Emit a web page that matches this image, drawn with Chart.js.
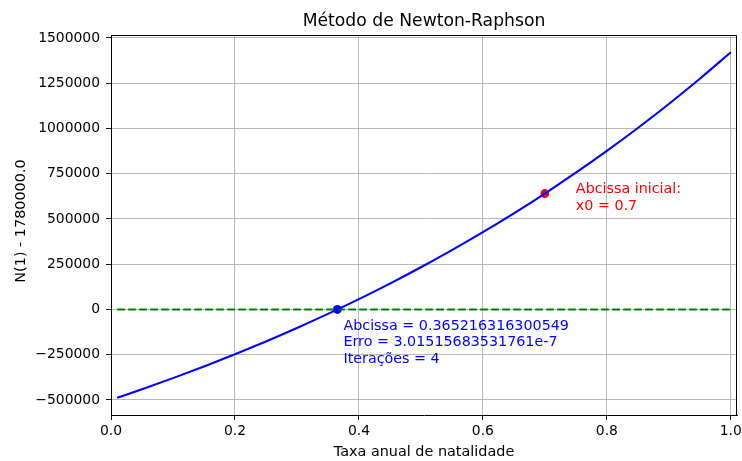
<!DOCTYPE html>
<html>
<head>
<meta charset="utf-8">
<script src="https://cdn.jsdelivr.net/npm/chart.js@4/dist/chart.umd.min.js"></script>
<style>
  html, body { margin: 0; padding: 0; background: #fff; }
  canvas { display: block; }
</style>
</head>
<body>
<canvas id="myChart" width="742" height="461"></canvas>
<script>
// valores
var taxa = [0.01, 0.05, 0.10, 0.15, 0.20, 0.25, 0.30, 0.35, 0.40, 0.45, 0.50,
            0.55, 0.60, 0.65, 0.70, 0.75, 0.80, 0.85, 0.90, 0.95, 1.00];
var valores = [-487500, -440600, -379300, -315000, -247500, -176700, -102400, -24500,
               57300, 143200, 233300, 327900, 427100, 531300, 640700, 755500,
               876000, 1002500, 1135300, 1274700, 1421100];
var zeroX = [0.01, 1.0];
var zeroY = [0, 0];
var raiz = [0.365216316300549, 0];
var inicial = [0.7, 640700];
var xTicks = [0.0, 0.2, 0.4, 0.6, 0.8, 1.0];
var yTicks = [-500000, -250000, 0, 250000, 500000, 750000, 1000000, 1250000, 1500000];
var textoRaiz = ['Abcissa = 0.365216316300549', 'Erro = 3.01515683531761e-7', 'Itera\u00e7\u00f5es = 4'];
var textoInicial = ['Abcissa inicial:', 'x0 = 0.7'];

var FONT = "'DejaVu Sans', sans-serif";

var extras = {
    id: 'extras',
    afterDraw: function (chart) {
        var c = chart.ctx, a = chart.chartArea;
        var xs = chart.scales.x, ys = chart.scales.y;
        c.save();
        // moldura (topo e direita)
        c.strokeStyle = '#000';
        c.lineWidth = 1;
        c.beginPath();
        c.moveTo(Math.round(a.left), Math.round(a.top) + 0.5);
        c.lineTo(Math.round(a.right) - 0.5, Math.round(a.top) + 0.5);
        c.lineTo(Math.round(a.right) - 0.5, Math.round(a.bottom));
        c.stroke();

        // titulo e eixos
        c.fillStyle = '#000';
        c.textAlign = 'center';
        c.textBaseline = 'alphabetic';
        c.font = '17.2px ' + FONT;
        c.fillText('M\u00e9todo de Newton-Raphson', (a.left + a.right) / 2, 26);
        c.font = '14.4px ' + FONT;
        c.fillText('Taxa anual de natalidade', (a.left + a.right) / 2, 456);
        c.save();
        c.translate(25, 221);
        c.rotate(-Math.PI / 2);
        c.fillText('N(1) - 1780000.0', 0, 0);
        c.restore();

        // anotacoes
        c.textAlign = 'left';
        c.font = '14.3px ' + FONT;
        c.fillStyle = '#0000ff';
        var bx = xs.getPixelForValue(0.375), by = ys.getPixelForValue(-111000);
        textoRaiz.forEach(function (t, i) { c.fillText(t, bx, by + i * 16.7); });
        c.fillStyle = '#ff0000';
        var rx = xs.getPixelForValue(0.75), ry = ys.getPixelForValue(642000);
        textoInicial.forEach(function (t, i) { c.fillText(t, rx, ry + i * 16.7); });
        c.restore();
    }
};

var ctx1 = document.getElementById('myChart').getContext('2d');
var myChart = new Chart(ctx1, {
    type: 'scatter',
    data: {
        datasets: [{
            data: taxa.map(function (x, i) { return { x: x, y: valores[i] }; }),
            showLine: true,
            borderColor: '#0000ff',
            borderWidth: 2.1,
            pointRadius: 0,
            cubicInterpolationMode: 'monotone'
        }, {
            data: zeroX.map(function (x, i) { return { x: x, y: zeroY[i] }; }),
            showLine: true,
            borderColor: '#008000',
            borderWidth: 2.1,
            borderDash: [7.7, 3.3],
            pointRadius: 0
        }, {
            data: [{ x: raiz[0], y: raiz[1] }],
            pointRadius: 4.4,
            pointBackgroundColor: '#0000ff',
            pointBorderColor: '#0000ff',
            pointBorderWidth: 0
        }, {
            data: [{ x: inicial[0], y: inicial[1] }],
            pointRadius: 4.4,
            pointBackgroundColor: '#ff0000',
            pointBorderColor: '#ff0000',
            pointBorderWidth: 0
        }]
    },
    options: {
        responsive: false,
        animation: false,
        layout: { padding: { left: 0, right: 5, top: 35, bottom: 0 } },
        plugins: { legend: { display: false }, tooltip: { enabled: false }, title: { display: false } },
        scales: {
            x: {
                type: 'linear',
                min: 0,
                max: 1.01,
                afterBuildTicks: function (s) { s.ticks = xTicks.map(function (v) { return { value: v }; }); },
                afterFit: function (s) { s.height = 46; s.paddingLeft = 0; s.paddingRight = 0; },
                grid: { color: '#b0b0b0', lineWidth: 0.9, tickColor: '#000', tickLength: 5 },
                border: { color: '#000', width: 1 },
                ticks: {
                    color: '#000',
                    font: { family: FONT, size: 13.9 },
                    padding: 3,
                    maxRotation: 0,
                    callback: function (v) { return v.toFixed(1); }
                }
            },
            y: {
                type: 'linear',
                min: -583000,
                max: 1516500,
                afterBuildTicks: function (s) { s.ticks = yTicks.map(function (v) { return { value: v }; }); },
                afterFit: function (s) { s.width = 111; s.paddingTop = 0; s.paddingBottom = 0; },
                grid: { color: '#b0b0b0', lineWidth: 0.9, tickColor: '#000', tickLength: 5 },
                border: { color: '#000', width: 1 },
                ticks: {
                    color: '#000',
                    font: { family: FONT, size: 13.9 },
                    padding: 6,
                    callback: function (v) { return v < 0 ? '\u2212' + Math.abs(v) : String(v); }
                }
            }
        }
    },
    plugins: [extras]
});
</script>
</body>
</html>
